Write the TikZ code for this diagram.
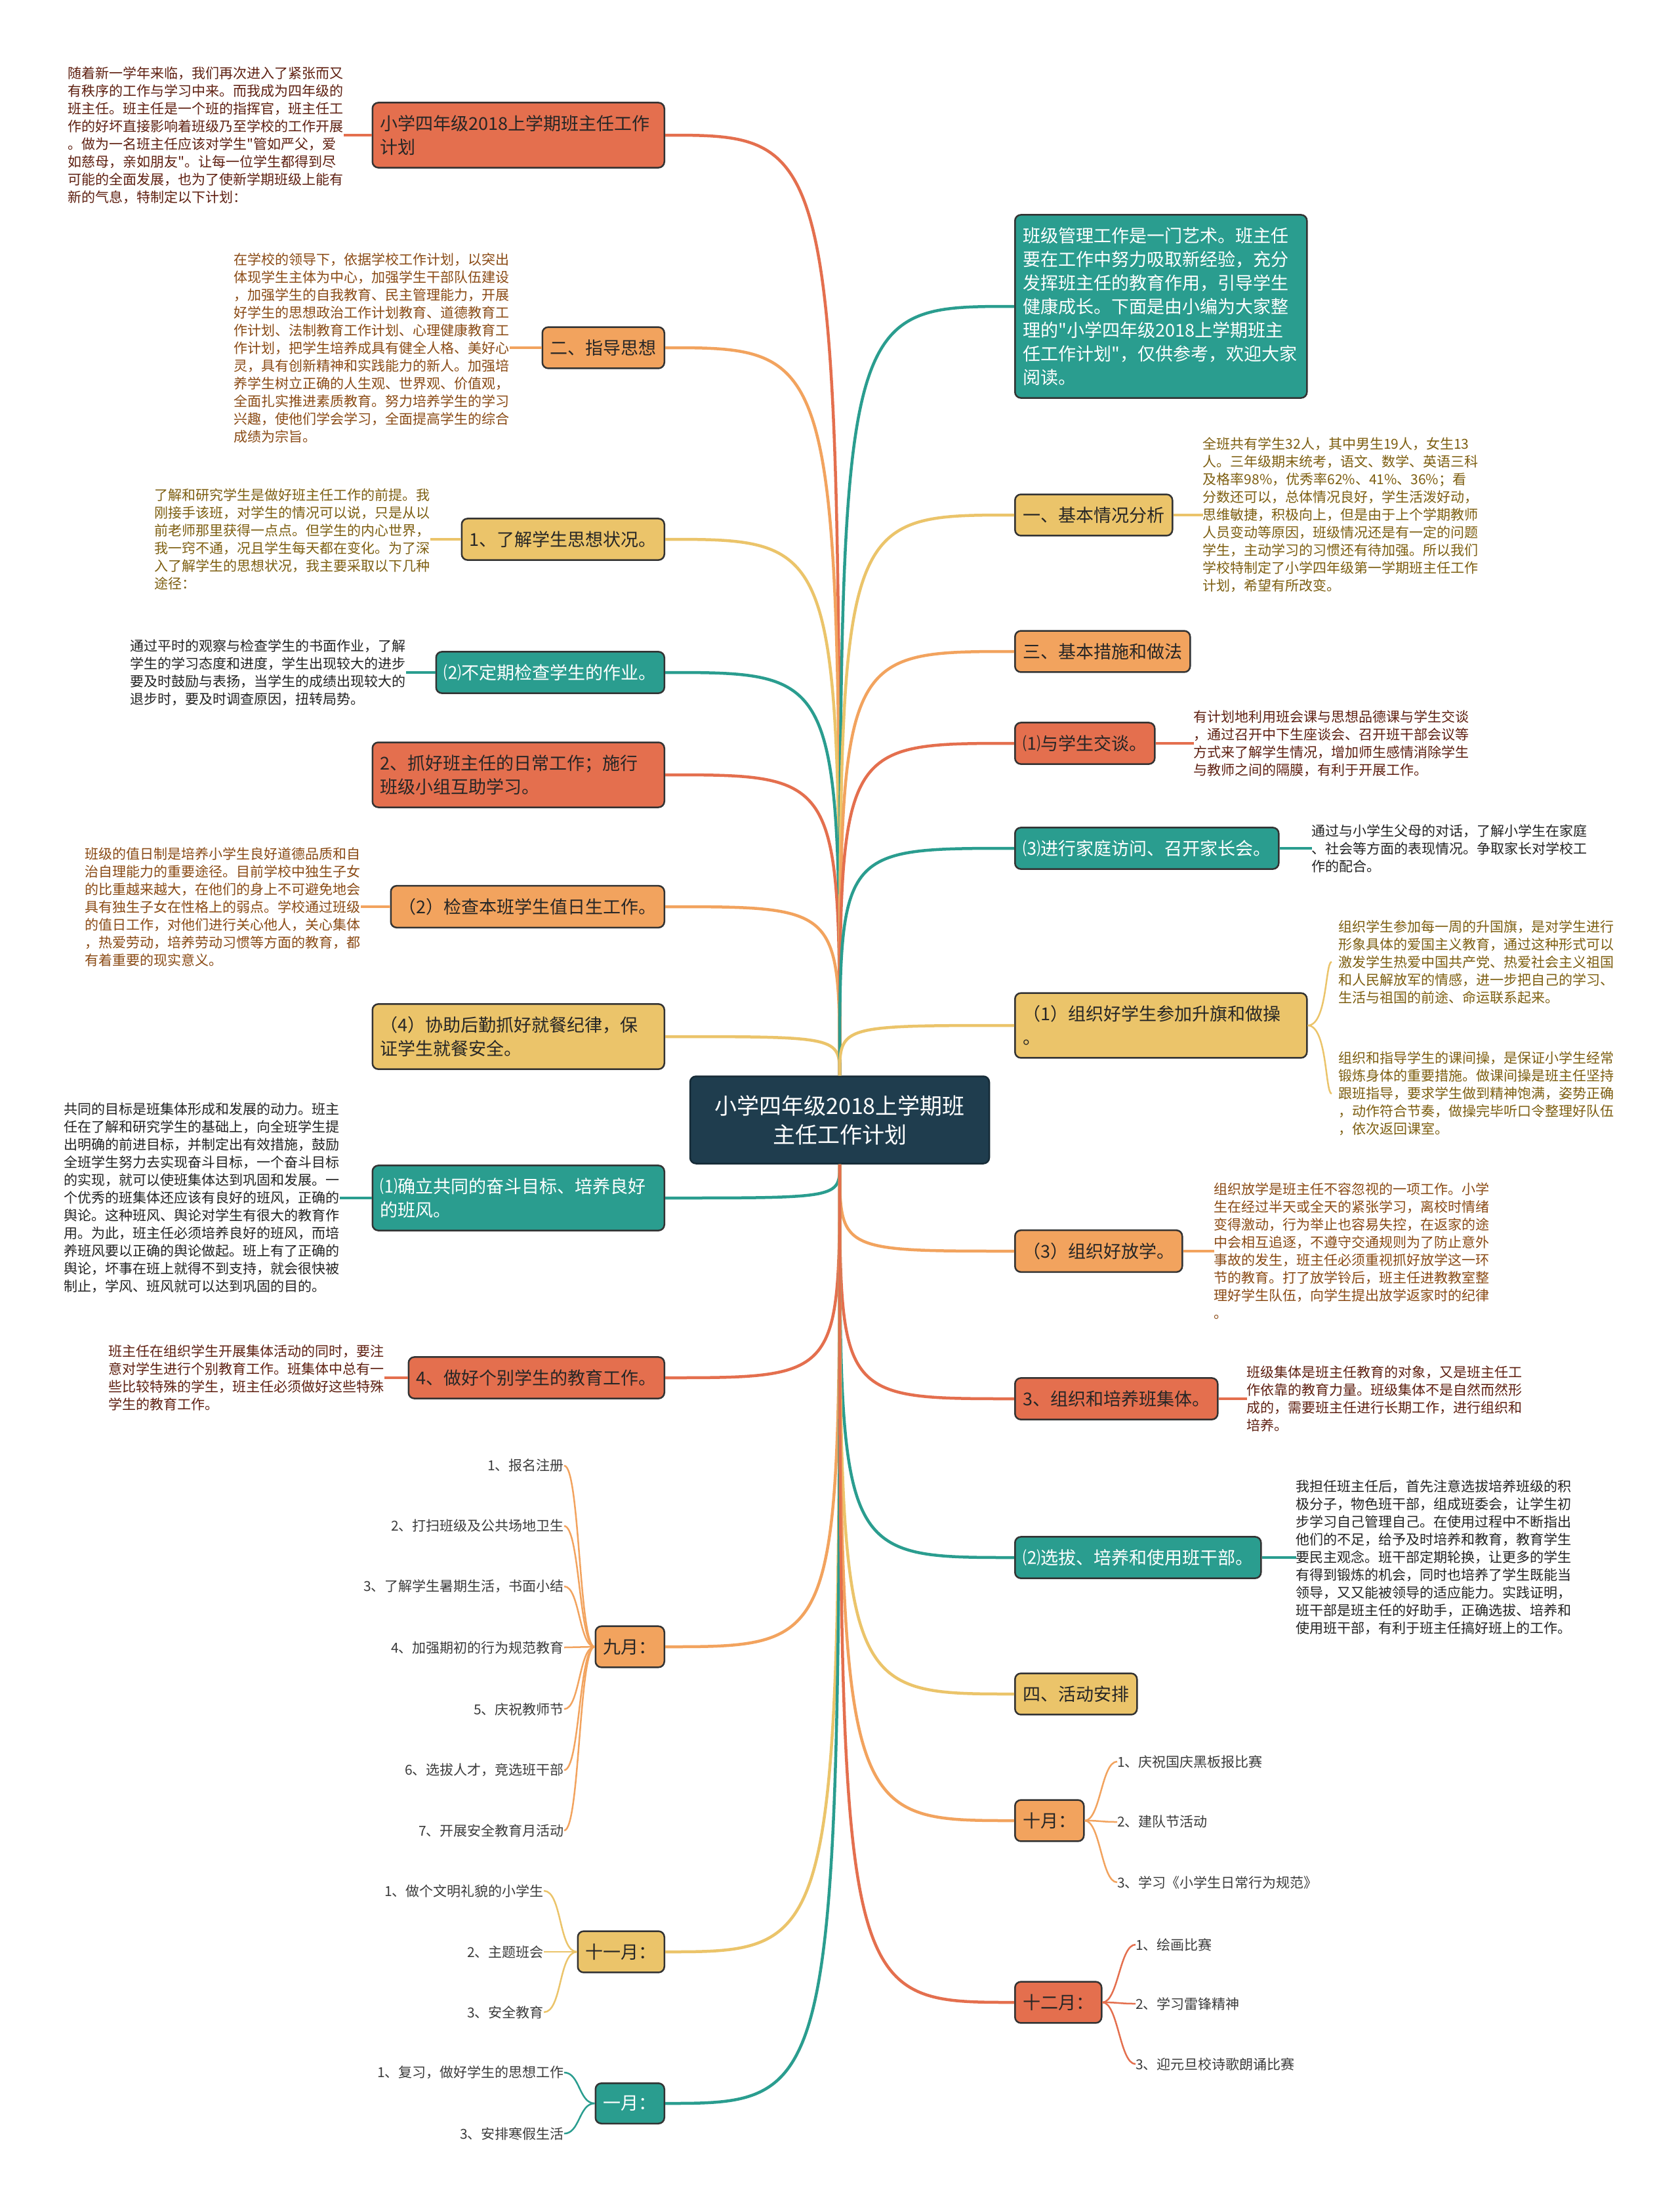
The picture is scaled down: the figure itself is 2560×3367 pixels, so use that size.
\documentclass[tikz,border=0pt]{standalone}
\usepackage{fontspec}
\setmainfont{Noto Sans CJK SC}[Ligatures=TeXOff]
\usetikzlibrary{positioning}

\definecolor{redfill}{HTML}{E46F4E}
\definecolor{orangefill}{HTML}{F2A35E}
\definecolor{yellowfill}{HTML}{EBC46A}
\definecolor{tealfill}{HTML}{2A9D8F}
\definecolor{rootfill}{HTML}{1F3D4E}
\definecolor{rednote}{HTML}{5E1F10}
\definecolor{orangenote}{HTML}{8A4A14}
\definecolor{yellownote}{HTML}{7D5E10}
\definecolor{tealnote}{HTML}{222222}
\definecolor{itemgray}{HTML}{3B3B3B}

\begin{document}
\begin{tikzpicture}[x=1pt, y=-1pt,
    box/.style={draw=black!80, line width=2.5pt, rounded corners=9pt, inner xsep=12pt, inner ysep=19pt, align=left, font=\fontsize{27}{36}\selectfont},
    wide/.style={text width=421pt},
    redtopic/.style={box, fill=redfill, text=black!85},
    orangetopic/.style={box, fill=orangefill, text=black!85},
    yellowtopic/.style={box, fill=yellowfill, text=black!85},
    tealtopic/.style={box, fill=tealfill, text=white},
    note/.style={inner sep=0pt, align=left, font=\fontsize{21}{27}\selectfont},
    item/.style={inner sep=0pt, text=itemgray, font=\fontsize{21}{27}\selectfont},
    redline/.style={draw=redfill, line width=4.5pt},
    orangeline/.style={draw=orangefill, line width=4.5pt},
    yellowline/.style={draw=yellowfill, line width=4.5pt},
    tealline/.style={draw=tealfill, line width=4.5pt},
    thin/.style={line width=2.5pt}]

    \fill[white] (0,0) rectangle (2560,3367);
    \useasboundingbox (0,0) rectangle (2560,3367);

    % Root
    \node[draw=rootfill!70!black, line width=2.5pt, fill=rootfill, text=white, rounded corners=9pt, minimum width=456pt, minimum height=133pt, align=center, font=\fontsize{34}{44}\selectfont] (plan) at (1280,1707) {小学四年级2018上学期班\\主任工作计划};

    % Left topics
    \node[redtopic, wide, anchor=east] (title) at (1014,206) {小学四年级2018上学期班主任工作\\计划};
    \node[orangetopic, anchor=east] (guide) at (1014,530) {二、指导思想};
    \node[yellowtopic, anchor=east] (know) at (1014,822) {1、了解学生思想状况。};
    \node[tealtopic, anchor=east] (homework) at (1014,1025) {⑵不定期检查学生的作业。};
    \node[redtopic, wide, anchor=east] (daily) at (1014,1181) {2、抓好班主任的日常工作；施行\\班级小组互助学习。};
    \node[orangetopic, anchor=east] (duty) at (1014,1382) {（2）检查本班学生值日生工作。};
    \node[yellowtopic, wide, anchor=east] (meal) at (1014,1580) {（4）协助后勤抓好就餐纪律，保\\证学生就餐安全。};
    \node[tealtopic, wide, anchor=east] (goal) at (1014,1826) {⑴确立共同的奋斗目标、培养良好\\的班风。};
    \node[redtopic, anchor=east] (single) at (1014,2100) {4、做好个别学生的教育工作。};
    \node[orangetopic, anchor=east] (sept) at (1014,2510) {九月：};
    \node[yellowtopic, anchor=east] (nov) at (1014,2975) {十一月：};
    \node[tealtopic, anchor=east] (jan) at (1014,3206) {一月：};

    % Right topics
    \node[tealtopic, wide, anchor=west] (intro) at (1546,467) {班级管理工作是一门艺术。班主任\\要在工作中努力吸取新经验，充分\\发挥班主任的教育作用，引导学生\\健康成长。下面是由小编为大家整\\理的"小学四年级2018上学期班主\\任工作计划"，仅供参考，欢迎大家\\阅读。};
    \node[yellowtopic, anchor=west] (basic) at (1546,785) {一、基本情况分析};
    \node[orangetopic, anchor=west] (measure) at (1546,993) {三、基本措施和做法};
    \node[redtopic, anchor=west] (talk) at (1546,1133) {⑴与学生交谈。};
    \node[tealtopic, anchor=west] (visit) at (1546,1293) {⑶进行家庭访问、召开家长会。};
    \node[yellowtopic, wide, anchor=west] (flag) at (1546,1563) {（1）组织好学生参加升旗和做操\\。};
    \node[orangetopic, anchor=west] (leave) at (1546,1907) {（3）组织好放学。};
    \node[redtopic, anchor=west] (collective) at (1546,2132) {3、组织和培养班集体。};
    \node[tealtopic, anchor=west] (cadre) at (1546,2374) {⑵选拔、培养和使用班干部。};
    \node[yellowtopic, anchor=west] (activity) at (1546,2582) {四、活动安排};
    \node[orangetopic, anchor=west] (oct) at (1546,2775) {十月：};
    \node[redtopic, anchor=west] (dec) at (1546,3052) {十二月：};

    % Notes - left
    \node[note, text=rednote, left=43pt of title] (titlenote) {随着新一学年来临，我们再次进入了紧张而又\\有秩序的工作与学习中来。而我成为四年级的\\班主任。班主任是一个班的指挥官，班主任工\\作的好坏直接影响着班级乃至学校的工作开展\\。做为一名班主任应该对学生"管如严父，爱\\如慈母，亲如朋友"。让每一位学生都得到尽\\可能的全面发展，也为了使新学期班级上能有\\新的气息，特制定以下计划：};
    \node[note, text=orangenote, left=49pt of guide] (guidenote) {在学校的领导下，依据学校工作计划，以突出\\体现学生主体为中心，加强学生干部队伍建设\\，加强学生的自我教育、民主管理能力，开展\\好学生的思想政治工作计划教育、道德教育工\\作计划、法制教育工作计划、心理健康教育工\\作计划，把学生培养成具有健全人格、美好心\\灵，具有创新精神和实践能力的新人。加强培\\养学生树立正确的人生观、世界观、价值观，\\全面扎实推进素质教育。努力培养学生的学习\\兴趣，使他们学会学习，全面提高学生的综合\\成绩为宗旨。};
    \node[note, text=yellownote, left=47pt of know] (knownote) {了解和研究学生是做好班主任工作的前提。我\\刚接手该班，对学生的情况可以说，只是从以\\前老师那里获得一点点。但学生的内心世界，\\我一窍不通，况且学生每天都在变化。为了深\\入了解学生的思想状况，我主要采取以下几种\\途径：};
    \node[note, text=tealnote, left=45pt of homework] (homeworknote) {通过平时的观察与检查学生的书面作业，了解\\学生的学习态度和进度，学生出现较大的进步\\要及时鼓励与表扬，当学生的成绩出现较大的\\退步时，要及时调查原因，扭转局势。};
    \node[note, text=orangenote, left=45pt of duty] (dutynote) {班级的值日制是培养小学生良好道德品质和自\\治自理能力的重要途径。目前学校中独生子女\\的比重越来越大，在他们的身上不可避免地会\\具有独生子女在性格上的弱点。学校通过班级\\的值日工作，对他们进行关心他人，关心集体\\，热爱劳动，培养劳动习惯等方面的教育，都\\有着重要的现实意义。};
    \node[note, text=tealnote, left=49pt of goal] (goalnote) {共同的目标是班集体形成和发展的动力。班主\\任在了解和研究学生的基础上，向全班学生提\\出明确的前进目标，并制定出有效措施，鼓励\\全班学生努力去实现奋斗目标，一个奋斗目标\\的实现，就可以使班集体达到巩固和发展。一\\个优秀的班集体还应该有良好的班风，正确的\\舆论。这种班风、舆论对学生有很大的教育作\\用。为此，班主任必须培养良好的班风，而培\\养班风要以正确的舆论做起。班上有了正确的\\舆论，坏事在班上就得不到支持，就会很快被\\制止，学风、班风就可以达到巩固的目的。};
    \node[note, text=rednote, left=36pt of single] (singlenote) {班主任在组织学生开展集体活动的同时，要注\\意对学生进行个别教育工作。班集体中总有一\\些比较特殊的学生，班主任必须做好这些特殊\\学生的教育工作。};

    % Notes - right
    \node[note, text=yellownote, right=45pt of basic] (basicnote) {全班共有学生32人，其中男生19人，女生13\\人。三年级期末统考，语文、数学、英语三科\\及格率98\%，优秀率62\%、41\%、36\%；看\\分数还可以，总体情况良好，学生活泼好动，\\思维敏捷，积极向上，但是由于上个学期教师\\人员变动等原因，班级情况还是有一定的问题\\学生，主动学习的习惯还有待加强。所以我们\\学校特制定了小学四年级第一学期班主任工作\\计划，希望有所改变。};
    \node[note, text=rednote, right=58pt of talk] (talknote) {有计划地利用班会课与思想品德课与学生交谈\\，通过召开中下生座谈会、召开班干部会议等\\方式来了解学生情况，增加师生感情消除学生\\与教师之间的隔膜，有利于开展工作。};
    \node[note, text=tealnote, right=49pt of visit] (visitnote) {通过与小学生父母的对话，了解小学生在家庭\\、社会等方面的表现情况。争取家长对学校工\\作的配合。};
    \node[note, text=yellownote, anchor=west] (flagnote) at (2040,1466) {组织学生参加每一周的升国旗，是对学生进行\\形象具体的爱国主义教育，通过这种形式可以\\激发学生热爱中国共产党、热爱社会主义祖国\\和人民解放军的情感，进一步把自己的学习、\\生活与祖国的前途、命运联系起来。};
    \node[note, text=yellownote, anchor=west] (drillnote) at (2040,1667) {组织和指导学生的课间操，是保证小学生经常\\锻炼身体的重要措施。做课间操是班主任坚持\\跟班指导，要求学生做到精神饱满，姿势正确\\，动作符合节奏，做操完毕听口令整理好队伍\\，依次返回课室。};
    \node[note, text=orangenote, right=47pt of leave] (leavenote) {组织放学是班主任不容忽视的一项工作。小学\\生在经过半天或全天的紧张学习，离校时情绪\\变得激动，行为举止也容易失控，在返家的途\\中会相互追逐，不遵守交通规则为了防止意外\\事故的发生，班主任必须重视抓好放学这一环\\节的教育。打了放学铃后，班主任进教教室整\\理好学生队伍，向学生提出放学返家时的纪律\\。};
    \node[note, text=rednote, right=43pt of collective] (collectivenote) {班级集体是班主任教育的对象，又是班主任工\\作依靠的教育力量。班级集体不是自然而然形\\成的，需要班主任进行长期工作，进行组织和\\培养。};
    \node[note, text=tealnote, right=52pt of cadre] (cadrenote) {我担任班主任后，首先注意选拔培养班级的积\\极分子，物色班干部，组成班委会，让学生初\\步学习自己管理自己。在使用过程中不断指出\\他们的不足，给予及时培养和教育，教育学生\\要民主观念。班干部定期轮换，让更多的学生\\有得到锻炼的机会，同时也培养了学生既能当\\领导，又又能被领导的适应能力。实践证明，\\班干部是班主任的好助手，正确选拔、培养和\\使用班干部，有利于班主任搞好班上的工作。};

    % Month items
    \node[item, anchor=east] (sept1) at (860,2234) {1、报名注册};
    \node[item, anchor=east] (sept2) at (860,2326) {2、打扫班级及公共场地卫生};
    \node[item, anchor=east] (sept3) at (860,2418) {3、了解学生暑期生活，书面小结};
    \node[item, anchor=east] (sept4) at (860,2511) {4、加强期初的行为规范教育};
    \node[item, anchor=east] (sept5) at (860,2605) {5、庆祝教师节};
    \node[item, anchor=east] (sept6) at (860,2698) {6、选拔人才，竞选班干部};
    \node[item, anchor=east] (sept7) at (860,2790) {7、开展安全教育月活动};
    \node[item, anchor=east] (nov1) at (829,2882) {1、做个文明礼貌的小学生};
    \node[item, anchor=east] (nov2) at (829,2975) {2、主题班会};
    \node[item, anchor=east] (nov3) at (829,3067) {3、安全教育};
    \node[item, anchor=east] (jan1) at (860,3159) {1、复习，做好学生的思想工作};
    \node[item, anchor=east] (jan3) at (860,3252) {3、安排寒假生活};
    \node[item, anchor=west] (oct1) at (1703,2685) {1、庆祝国庆黑板报比赛};
    \node[item, anchor=west] (oct2) at (1703,2777) {2、建队节活动};
    \node[item, anchor=west] (oct3) at (1703,2869) {3、学习《小学生日常行为规范》};
    \node[item, anchor=west] (dec1) at (1731,2964) {1、绘画比赛};
    \node[item, anchor=west] (dec2) at (1731,3054) {2、学习雷锋精神};
    \node[item, anchor=west] (dec3) at (1731,3146) {3、迎元旦校诗歌朗诵比赛};

    % Connections from root - left
    \draw[redline] (plan) .. controls (plan |- title.east) .. (title.east);
    \draw[orangeline] (plan) .. controls (plan |- guide.east) .. (guide.east);
    \draw[yellowline] (plan) .. controls (plan |- know.east) .. (know.east);
    \draw[tealline] (plan) .. controls (plan |- homework.east) .. (homework.east);
    \draw[redline] (plan) .. controls (plan |- daily.east) .. (daily.east);
    \draw[orangeline] (plan) .. controls (plan |- duty.east) .. (duty.east);
    \draw[yellowline] (plan) .. controls (plan |- meal.east) .. (meal.east);
    \draw[tealline] (plan) .. controls (plan |- goal.east) .. (goal.east);
    \draw[redline] (plan) .. controls (plan |- single.east) .. (single.east);
    \draw[orangeline] (plan) .. controls (plan |- sept.east) .. (sept.east);
    \draw[yellowline] (plan) .. controls (plan |- nov.east) .. (nov.east);
    \draw[tealline] (plan) .. controls (plan |- jan.east) .. (jan.east);

    % Connections from root - right
    \draw[tealline] (plan) .. controls (plan |- intro.west) .. (intro.west);
    \draw[yellowline] (plan) .. controls (plan |- basic.west) .. (basic.west);
    \draw[orangeline] (plan) .. controls (plan |- measure.west) .. (measure.west);
    \draw[redline] (plan) .. controls (plan |- talk.west) .. (talk.west);
    \draw[tealline] (plan) .. controls (plan |- visit.west) .. (visit.west);
    \draw[yellowline] (plan) .. controls (plan |- flag.west) .. (flag.west);
    \draw[orangeline] (plan) .. controls (plan |- leave.west) .. (leave.west);
    \draw[redline] (plan) .. controls (plan |- collective.west) .. (collective.west);
    \draw[tealline] (plan) .. controls (plan |- cadre.west) .. (cadre.west);
    \draw[yellowline] (plan) .. controls (plan |- activity.west) .. (activity.west);
    \draw[orangeline] (plan) .. controls (plan |- oct.west) .. (oct.west);
    \draw[redline] (plan) .. controls (plan |- dec.west) .. (dec.west);

    % Connections to notes
    \draw[redline] (title.west) -- (titlenote.east);
    \draw[orangeline] (guide.west) -- (guidenote.east);
    \draw[yellowline] (know.west) -- (knownote.east);
    \draw[tealline] (homework.west) -- (homeworknote.east);
    \draw[orangeline] (duty.west) -- (dutynote.east);
    \draw[tealline] (goal.west) -- (goalnote.east);
    \draw[redline] (single.west) -- (singlenote.east);
    \draw[yellowline] (basic.east) -- (basicnote.west);
    \draw[redline] (talk.east) -- (talknote.west);
    \draw[tealline] (visit.east) -- (visitnote.west);
    \draw[orangeline] (leave.east) -- (leavenote.west);
    \draw[redline] (collective.east) -- (collectivenote.west);
    \draw[tealline] (cadre.east) -- (cadrenote.west);
    \draw[yellowline, thin, shorten >=10pt] (flag.east) .. controls +(30,0) and +(-20,0) .. (flagnote.west);
    \draw[yellowline, thin, shorten >=10pt] (flag.east) .. controls +(30,0) and +(-20,0) .. (drillnote.west);

    % Connections to month items
    \draw[orangeline, thin] (sept.west) .. controls +(-24,0) and +(24,0) .. (sept1.east);
    \draw[orangeline, thin] (sept.west) .. controls +(-24,0) and +(24,0) .. (sept2.east);
    \draw[orangeline, thin] (sept.west) .. controls +(-24,0) and +(24,0) .. (sept3.east);
    \draw[orangeline, thin] (sept.west) .. controls +(-24,0) and +(24,0) .. (sept4.east);
    \draw[orangeline, thin] (sept.west) .. controls +(-24,0) and +(24,0) .. (sept5.east);
    \draw[orangeline, thin] (sept.west) .. controls +(-24,0) and +(24,0) .. (sept6.east);
    \draw[orangeline, thin] (sept.west) .. controls +(-24,0) and +(24,0) .. (sept7.east);
    \draw[yellowline, thin] (nov.west) .. controls +(-28,0) and +(28,0) .. (nov1.east);
    \draw[yellowline, thin] (nov.west) .. controls +(-28,0) and +(28,0) .. (nov2.east);
    \draw[yellowline, thin] (nov.west) .. controls +(-28,0) and +(28,0) .. (nov3.east);
    \draw[tealline, thin] (jan.west) .. controls +(-24,0) and +(24,0) .. (jan1.east);
    \draw[tealline, thin] (jan.west) .. controls +(-24,0) and +(24,0) .. (jan3.east);
    \draw[orangeline, thin] (oct.east) .. controls +(24,0) and +(-24,0) .. (oct1.west);
    \draw[orangeline, thin] (oct.east) .. controls +(24,0) and +(-24,0) .. (oct2.west);
    \draw[orangeline, thin] (oct.east) .. controls +(24,0) and +(-24,0) .. (oct3.west);
    \draw[redline, thin] (dec.east) .. controls +(24,0) and +(-24,0) .. (dec1.west);
    \draw[redline, thin] (dec.east) .. controls +(24,0) and +(-24,0) .. (dec2.west);
    \draw[redline, thin] (dec.east) .. controls +(24,0) and +(-24,0) .. (dec3.west);
\end{tikzpicture}
\end{document}
